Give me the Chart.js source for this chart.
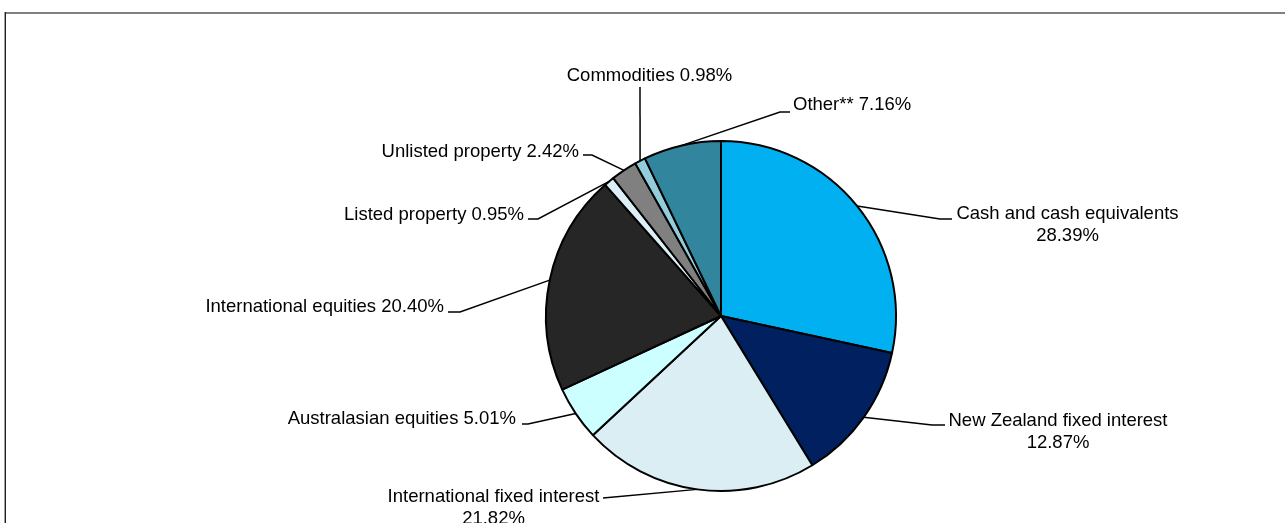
<!DOCTYPE html>
<html>
<head>
<meta charset="utf-8">
<script src="https://cdn.jsdelivr.net/npm/chart.js@4.4.0/dist/chart.umd.min.js"></script>
<style>
  html, body { margin: 0; padding: 0; background: #ffffff; }
  #wrap { position: relative; width: 1285px; height: 523px; }
  canvas { display: block; }
</style>
</head>
<body>
<div id="wrap"><canvas id="c" width="1285" height="523"></canvas></div>
<script>
// ---- data ----
const categories = [
  "Cash and cash equivalents",
  "New Zealand fixed interest",
  "International fixed interest",
  "Australasian equities",
  "International equities",
  "Listed property",
  "Unlisted property",
  "Commodities",
  "Other**"
];
const values = [28.39, 12.87, 21.82, 5.01, 20.40, 0.95, 2.42, 0.98, 7.16];

// ---- styles ----
const sliceColors = [
  "#00B0F0", "#002060", "#DAEEF3", "#CCFFFF", "#262626",
  "#DDEFF6", "#808080", "#92CDDC", "#31859C"
];

// ---- label layout (elbow point, horizontal end, text anchor) ----
const labelLayout = [
  { ex: 940, ey: 219, hx: 952, tx: 1067.5, ty: 214, align: "center", split: true },
  { ex: 932, ey: 425, hx: 945, tx: 1058,   ty: 421, align: "center", split: true },
  { ex: 603, ey: 498, hx: 603, tx: 493.5,  ty: 497, align: "center", split: true },
  { ex: 528, ey: 424, hx: 522, tx: 516,    ty: 419, align: "right",  split: false },
  { ex: 460, ey: 312, hx: 448, tx: 444,    ty: 307, align: "right",  split: false },
  { ex: 538, ey: 219, hx: 528, tx: 524,    ty: 215, align: "right",  split: false },
  { ex: 592, ey: 155, hx: 583, tx: 579,    ty: 152, align: "right",  split: false },
  { ex: 640, ey: 87,  hx: 640, tx: 649.5,  ty: 76,  align: "center", split: false },
  { ex: 780, ey: 112, hx: 790, tx: 793,    ty: 105, align: "left",   split: false }
];

const FONT = "18.5px 'Liberation Sans', Arial, sans-serif";
const LINE_H = 22;

const frame = {
  id: "frame",
  beforeDraw(chart) {
    const ctx = chart.ctx;
    ctx.save();
    ctx.fillStyle = "#ffffff";
    ctx.fillRect(0, 0, chart.width, chart.height);
    ctx.fillStyle = "#808080";
    ctx.fillRect(4, 12, chart.width - 4, 2);
    ctx.fillStyle = "#a0a0a0";
    ctx.fillRect(4, 12, 1, chart.height - 12);
    ctx.fillStyle = "#202020";
    ctx.fillRect(5, 12, 1, chart.height - 12);
    ctx.restore();
  }
};

const leaderLabels = {
  id: "leaderLabels",
  afterDatasetsDraw(chart) {
    const ctx = chart.ctx;
    const meta = chart.getDatasetMeta(0);
    ctx.save();
    ctx.strokeStyle = "#000000";
    ctx.lineWidth = 1.5;
    ctx.fillStyle = "#000000";
    ctx.font = FONT;
    ctx.textBaseline = "middle";
    meta.data.forEach((arc, i) => {
      const p = arc.getProps(["x", "y", "startAngle", "endAngle", "outerRadius"], true);
      const mid = (p.startAngle + p.endAngle) / 2;
      const sx = p.x + Math.cos(mid) * p.outerRadius;
      const sy = p.y + Math.sin(mid) * p.outerRadius;
      const L = labelLayout[i];
      ctx.beginPath();
      ctx.moveTo(sx, sy);
      ctx.lineTo(L.ex, L.ey);
      ctx.lineTo(L.hx, L.ey);
      ctx.stroke();
      const pct = values[i].toFixed(2) + "%";
      const lines = L.split ? [categories[i], pct] : [categories[i] + " " + pct];
      ctx.textAlign = L.align;
      lines.forEach((t, k) => ctx.fillText(t, L.tx, L.ty + k * LINE_H));
    });
    ctx.restore();
  }
};

new Chart(document.getElementById("c"), {
  type: "pie",
  data: {
    labels: categories,
    datasets: [{
      data: values,
      backgroundColor: sliceColors,
      borderColor: "#000000",
      borderWidth: 2
    }]
  },
  options: {
    responsive: false,
    animation: false,
    radius: 175,
    layout: { padding: { left: 157, right: 0, top: 120, bottom: 11 } },
    plugins: {
      legend: { display: false },
      tooltip: { enabled: false },
      title: { display: false }
    }
  },
  plugins: [frame, leaderLabels]
});
</script>
</body>
</html>
